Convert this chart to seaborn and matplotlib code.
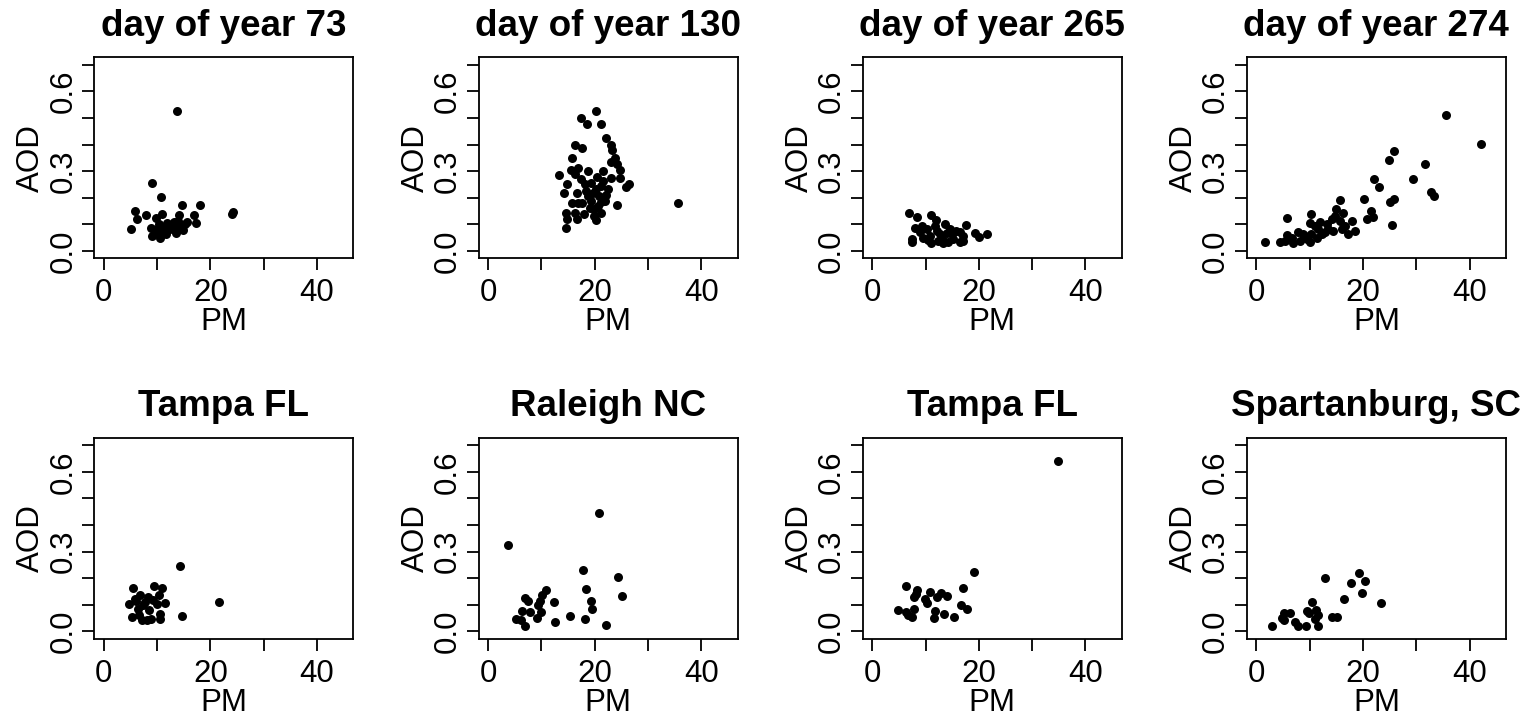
import matplotlib
matplotlib.use("Agg")
import pandas as pd
import matplotlib.pyplot as plt
import seaborn as sns

# Panel titles (top row: days of year, bottom row: sites)
titles = ["day of year 73", "day of year 130", "day of year 265", "day of year 274",
          "Tampa FL", "Raleigh NC", "Tampa FL", "Spartanburg, SC"]

# Values
pm_doy73 = [13.7, 9.1, 10.75, 14.6, 18.1, 5.9, 6.2, 5.1, 7.9, 10.9, 9.7, 14.1, 16.9, 17.2, 15.6,
            24.0, 24.3, 8.9, 9.1, 10.6, 11.7, 10.25, 11.2, 12.4, 13.1, 13.6, 14.3, 14.8, 11.9,
            9.9, 10.9, 13.9, 15.3, 12.75, 13.8, 11.5, 9.6]
aod_doy73 = [0.526, 0.254, 0.201, 0.174, 0.174, 0.151, 0.121, 0.084, 0.135, 0.14, 0.125, 0.135,
             0.136, 0.104, 0.11, 0.139, 0.145, 0.085, 0.0575, 0.05, 0.0625, 0.1, 0.0875, 0.081,
             0.109, 0.069, 0.094, 0.0775, 0.104, 0.081, 0.071, 0.1125, 0.1, 0.094, 0.081, 0.075,
             0.066]

pm_doy130 = [20.25, 17.4, 18.6, 21.25, 22.2, 16.3, 17.6, 23.1, 23.3, 15.8, 23.75, 23.0, 24.25,
             13.3, 15.5, 16.9, 18.8, 21.5, 24.7, 24.7, 23.1, 17.4, 20.4, 14.8, 26.4, 25.8, 19.4,
             21.25, 14.25, 16.6, 18.4, 20.3, 22.5, 22.2, 20.9, 15.75, 17.6, 19.4, 21.25, 24.1,
             35.6, 14.7, 16.25, 18.0, 19.9, 21.1, 20.6, 18.75, 16.9, 14.9, 16.6, 20.3, 14.7,
             19.1, 19.9, 21.9, 18.1, 16.25, 21.6, 19.7]
aod_doy130 = [0.5275, 0.5, 0.476, 0.476, 0.425, 0.40, 0.385, 0.40, 0.3775, 0.351, 0.35, 0.334,
              0.325, 0.286, 0.304, 0.31, 0.301, 0.301, 0.304, 0.275, 0.2725, 0.269, 0.2775,
              0.251, 0.2525, 0.239, 0.256, 0.244, 0.216, 0.216, 0.225, 0.231, 0.231, 0.209,
              0.206, 0.179, 0.179, 0.1875, 0.184, 0.171, 0.181, 0.144, 0.141, 0.139, 0.156,
              0.141, 0.169, 0.206, 0.181, 0.119, 0.119, 0.115, 0.0875, 0.1625, 0.131, 0.1875,
              0.25, 0.2875, 0.2625, 0.219]

pm_doy265 = [6.9, 8.3, 11.0, 11.9, 13.6, 17.6, 8.0, 19.25, 20.0, 21.6, 7.4, 7.5, 8.9, 10.2,
             10.8, 12.1, 13.0, 14.25, 14.9, 16.4, 17.1, 15.8, 11.1, 9.6, 12.4, 14.0, 15.2, 10.5,
             12.75, 11.75, 14.6, 16.4, 9.25, 17.1, 13.3]
aod_doy265 = [0.1425, 0.1275, 0.134, 0.116, 0.101, 0.0975, 0.085, 0.069, 0.0525, 0.0625, 0.046,
              0.034, 0.071, 0.081, 0.056, 0.075, 0.05, 0.034, 0.0625, 0.034, 0.056, 0.075, 0.031,
              0.05, 0.0375, 0.069, 0.044, 0.041, 0.0625, 0.094, 0.081, 0.071, 0.094, 0.0375,
              0.031]

pm_doy274 = [35.6, 42.2, 25.8, 24.9, 31.7, 22.1, 23.0, 29.3, 32.7, 33.3, 20.1, 25.8, 25.1, 15.6,
             21.5, 21.9, 20.7, 25.4, 5.8, 10.3, 14.9, 16.3, 18.0, 18.5, 17.2, 16.0, 14.4, 14.1,
             13.2, 11.9, 10.0, 11.6, 10.3, 11.3, 9.4, 7.8, 8.1, 6.9, 5.8, 5.3, 4.4, 1.6, 12.9,
             15.7, 13.5, 9.1, 11.0, 14.7, 16.6, 12.2, 10.0, 8.8, 6.6]
aod_doy274 = [0.511, 0.401, 0.375, 0.341, 0.326, 0.271, 0.239, 0.269, 0.221, 0.206, 0.195, 0.196,
              0.184, 0.19, 0.151, 0.129, 0.119, 0.096, 0.125, 0.139, 0.156, 0.144, 0.1125,
              0.076, 0.065, 0.081, 0.075, 0.119, 0.1, 0.109, 0.106, 0.081, 0.0625, 0.05, 0.044,
              0.071, 0.0375, 0.029, 0.059, 0.0375, 0.034, 0.034, 0.071, 0.1125, 0.081, 0.056,
              0.094, 0.131, 0.094, 0.0625, 0.034, 0.0625, 0.05]

pm_tampa1 = [14.25, 21.6, 14.6, 5.4, 9.4, 10.9, 6.75, 8.3, 10.3, 4.7, 6.1, 7.7, 9.9, 11.5, 6.4,
             8.5, 10.5, 5.3, 7.1, 8.75, 10.5, 7.4, 9.25, 5.8, 8.0, 6.6]
aod_tampa1 = [0.246, 0.109, 0.0575, 0.1625, 0.171, 0.1625, 0.1375, 0.129, 0.135, 0.104, 0.116,
              0.11, 0.104, 0.106, 0.085, 0.081, 0.066, 0.0525, 0.041, 0.046, 0.046, 0.0975,
              0.119, 0.1225, 0.044, 0.06]

pm_raleigh = [20.75, 3.75, 17.8, 24.4, 18.4, 25.1, 19.4, 19.5, 12.3, 15.4, 18.25, 22.1, 12.5,
              6.9, 7.5, 10.8, 10.2, 9.7, 9.4, 9.9, 9.1, 6.4, 7.8, 5.3, 6.1, 6.9]
aod_raleigh = [0.446, 0.325, 0.23, 0.204, 0.159, 0.134, 0.116, 0.084, 0.111, 0.059, 0.046, 0.025,
               0.036, 0.126, 0.1125, 0.154, 0.135, 0.116, 0.0975, 0.0725, 0.05, 0.076, 0.0725,
               0.0475, 0.041, 0.021]

pm_tampa2 = [34.8, 19.1, 17.1, 6.4, 8.4, 7.8, 10.8, 12.9, 14.1, 12.1, 9.9, 10.2, 16.6, 17.7,
             4.75, 6.4, 7.8, 6.75, 7.4, 11.75, 13.4, 11.6, 15.25, 8.2]
aod_tampa2 = [0.641, 0.2225, 0.1625, 0.171, 0.154, 0.129, 0.1475, 0.144, 0.134, 0.129, 0.12,
              0.1075, 0.0975, 0.084, 0.081, 0.074, 0.085, 0.06, 0.054, 0.076, 0.066, 0.05,
              0.0525, 0.141]

pm_spartanburg = [19.2, 12.8, 17.8, 20.4, 19.8, 16.4, 23.4, 10.5, 9.5, 11.1, 11.6, 10.9, 11.6,
                  9.2, 7.75, 7.2, 5.1, 6.2, 4.8, 5.1, 3.0, 14.2, 15.1, 9.8]
aod_spartanburg = [0.219, 0.2025, 0.1825, 0.189, 0.146, 0.12, 0.1075, 0.11, 0.076, 0.079,
                   0.0625, 0.046, 0.02, 0.02, 0.02, 0.035, 0.07, 0.07, 0.05, 0.041, 0.02, 0.055,
                   0.055, 0.07]

x_ticks = [0, 10, 20, 30, 40]
x_tick_labels = ["0", "", "20", "", "40"]
y_ticks = [0.0, 0.1, 0.2, 0.3, 0.4, 0.5, 0.6, 0.7]
y_tick_labels = ["0.0", "", "", "0.3", "", "", "0.6", ""]

panels = [
    (pm_doy73, aod_doy73), (pm_doy130, aod_doy130), (pm_doy265, aod_doy265),
    (pm_doy274, aod_doy274), (pm_tampa1, aod_tampa1), (pm_raleigh, aod_raleigh),
    (pm_tampa2, aod_tampa2), (pm_spartanburg, aod_spartanburg),
]

sns.set_theme(style="white")
plt.rcParams["font.family"] = ["Liberation Sans", "DejaVu Sans"]
plt.rcParams["text.color"] = "black"
plt.rcParams["axes.labelcolor"] = "black"
plt.rcParams["axes.titlecolor"] = "black"

W, H = 1526, 718
fig = plt.figure(figsize=(W / 100, H / 100), dpi=100)

for i, (pm, aod) in enumerate(panels):
    r, c = divmod(i, 4)
    left = 94.3 + 384.2 * c
    top = 57.3 + 380.5 * r
    ax = fig.add_axes([left / W, (H - top - 201) / H, 259 / W, 201 / H])

    df = pd.DataFrame({"PM": pm, "AOD": aod})
    sns.scatterplot(data=df, x="PM", y="AOD", ax=ax, color="black", s=42,
                    linewidth=0, legend=False)

    # R-style 4% padding around xlim=c(0,45), ylim=c(0,0.7)
    ax.set_xlim(-1.8, 46.8)
    ax.set_ylim(-0.028, 0.728)
    ax.set_xticks(x_ticks)
    ax.set_xticklabels(x_tick_labels)
    ax.set_yticks(y_ticks)
    ax.set_yticklabels(y_tick_labels, rotation=90, va="center")

    ax.tick_params(axis="both", direction="out", length=8.9, width=1.3, color="black",
                   labelcolor="black", labelsize=22.5, bottom=True, left=True)
    ax.tick_params(axis="x", pad=5.5)
    ax.tick_params(axis="y", pad=2.4)
    for sp in ax.spines.values():
        sp.set_color("black")
        sp.set_linewidth(1.3)

    ax.set_title(titles[i], fontsize=26.5, fontweight="bold", pad=15.5, color="black")
    ax.set_xlabel("PM", fontsize=22.5, color="black")
    ax.xaxis.set_label_coords(0.5, -72.2 / 201)
    ax.xaxis.label.set_va("baseline")
    ax.set_ylabel("AOD", fontsize=22.5, color="black")
    ax.yaxis.set_label_coords(-55 / 259, 0.5)
    ax.yaxis.label.set_va("baseline")

fig.savefig("out.png", dpi=100)
